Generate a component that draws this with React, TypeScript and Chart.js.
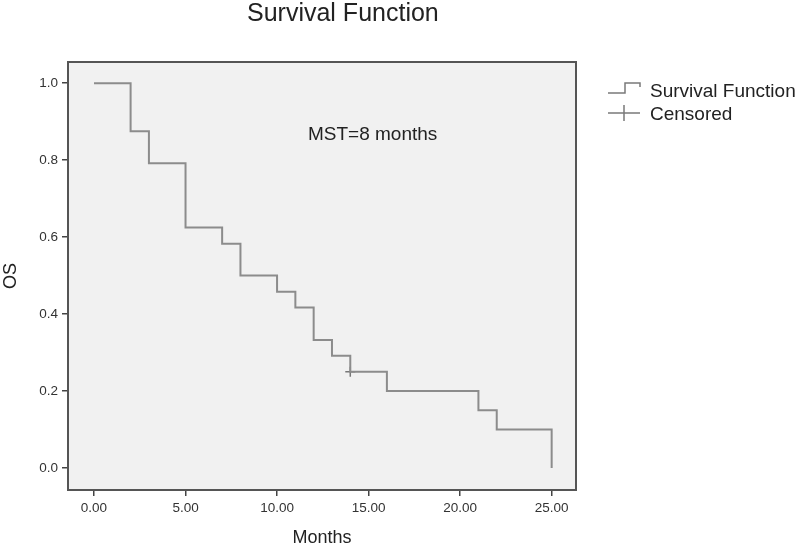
import React, { useEffect, useRef } from "react";
import { Chart, registerables } from "chart.js";

Chart.register(...registerables);

// ---- Data (Kaplan-Meier estimate) ----
const MONTHS: number[] = [0, 2, 3, 5, 7, 8, 10, 11, 12, 13, 14, 16, 21, 22, 25];
const SURVIVAL: number[] = [1.0, 0.875, 0.792, 0.625, 0.583, 0.5, 0.458, 0.417, 0.333, 0.292, 0.25, 0.2, 0.15, 0.1, 0.0];
const CENSORED_MONTHS: number[] = [14];
const CENSORED_SURVIVAL: number[] = [0.25];

const X_TICKS: number[] = [0, 5, 10, 15, 20, 25];
const Y_TICKS: number[] = [0, 0.2, 0.4, 0.6, 0.8, 1.0];

const TITLE = "Survival Function";
const ANNOTATION = "MST=8 months";
const LEGEND_LABELS: string[] = ["Survival Function", "Censored"];
const X_TITLE = "Months";
const Y_TITLE = "OS";

const FONT = '"Liberation Sans", Arial, Helvetica, sans-serif';
const LINE_COLOR = "#8c8c8c";
const TEXT_COLOR = "#222222";

const decorPlugin = {
  id: "decor",
  beforeDatasetsDraw(chart: any) {
    const { ctx, chartArea } = chart;
    ctx.save();
    ctx.fillStyle = "#f1f1f1";
    ctx.fillRect(chartArea.left, chartArea.top, chartArea.right - chartArea.left, chartArea.bottom - chartArea.top);
    ctx.restore();
  },
  afterDraw(chart: any) {
    const { ctx, chartArea } = chart;
    ctx.save();
    // frame
    ctx.strokeStyle = "#555555";
    ctx.lineWidth = 2;
    ctx.strokeRect(chartArea.left, chartArea.top, chartArea.right - chartArea.left, chartArea.bottom - chartArea.top);

    // title
    ctx.fillStyle = TEXT_COLOR;
    ctx.textBaseline = "alphabetic";
    ctx.textAlign = "left";
    ctx.font = `25px ${FONT}`;
    ctx.fillText(TITLE, 247, 21);

    // annotation
    ctx.font = `19px ${FONT}`;
    ctx.fillText(ANNOTATION, 308, 140);

    // legend
    ctx.strokeStyle = "#7a7a7a";
    ctx.lineWidth = 1.5;
    ctx.beginPath();
    ctx.moveTo(608, 93);
    ctx.lineTo(625, 93);
    ctx.lineTo(625, 83);
    ctx.lineTo(640, 83);
    ctx.lineTo(640, 87);
    ctx.stroke();
    ctx.beginPath();
    ctx.moveTo(608, 113);
    ctx.lineTo(640, 113);
    ctx.moveTo(624, 105);
    ctx.lineTo(624, 121);
    ctx.stroke();
    ctx.fillStyle = TEXT_COLOR;
    ctx.font = `19px ${FONT}`;
    ctx.fillText(LEGEND_LABELS[0], 650, 97);
    ctx.fillText(LEGEND_LABELS[1], 650, 120);
    ctx.restore();
  },
};

export default function App() {
  const canvasRef = useRef<HTMLCanvasElement | null>(null);

  useEffect(() => {
    document.body.style.margin = "0";
    const canvas = canvasRef.current;
    if (!canvas) return;

    const chart = new Chart(canvas, {
      type: "line",
      data: {
        datasets: [
          {
            label: LEGEND_LABELS[0],
            data: MONTHS.map((m, i) => ({ x: m, y: SURVIVAL[i] })),
            stepped: "before",
            borderColor: LINE_COLOR,
            borderWidth: 2,
            pointRadius: 0,
            fill: false,
          },
          {
            label: LEGEND_LABELS[1],
            data: CENSORED_MONTHS.map((m, i) => ({ x: m, y: CENSORED_SURVIVAL[i] })),
            showLine: false,
            pointStyle: "cross",
            pointRadius: 5,
            borderColor: "#777777",
            borderWidth: 1.5,
          },
        ],
      },
      options: {
        responsive: false,
        animation: false,
        layout: { padding: { top: 62, left: 0, right: 224, bottom: 0 } },
        plugins: {
          legend: { display: false },
          title: { display: false },
          tooltip: { enabled: false },
        },
        scales: {
          x: {
            type: "linear",
            min: -1.42,
            max: 26.33,
            afterFit: (scale: any) => {
              scale.height = 59;
            },
            afterBuildTicks: (scale: any) => {
              scale.ticks = X_TICKS.map((v) => ({ value: v }));
            },
            ticks: {
              autoSkip: false,
              maxRotation: 0,
              padding: 4,
              color: "#333333",
              font: { family: FONT, size: 13.5 },
              callback: (v: any) => Number(v).toFixed(2),
            },
            grid: {
              drawOnChartArea: false,
              drawTicks: true,
              tickLength: 6,
              color: "#444444",
              lineWidth: 1.5,
            },
            border: { display: false },
            title: {
              display: true,
              text: X_TITLE,
              color: TEXT_COLOR,
              font: { family: FONT, size: 18 },
              padding: { top: 0, bottom: 0 },
            },
          },
          y: {
            type: "linear",
            min: -0.057,
            max: 1.055,
            afterFit: (scale: any) => {
              scale.width = 68;
            },
            afterBuildTicks: (scale: any) => {
              scale.ticks = Y_TICKS.map((v) => ({ value: v }));
            },
            ticks: {
              autoSkip: false,
              padding: 4,
              color: "#333333",
              font: { family: FONT, size: 13.5 },
              callback: (v: any) => Number(v).toFixed(1),
            },
            grid: {
              drawOnChartArea: false,
              drawTicks: true,
              tickLength: 6,
              color: "#444444",
              lineWidth: 1.5,
            },
            border: { display: false },
            title: {
              display: true,
              text: Y_TITLE,
              color: TEXT_COLOR,
              font: { family: FONT, size: 18 },
              padding: { top: 0, bottom: 0 },
            },
          },
        },
      },
      plugins: [decorPlugin],
    });

    return () => chart.destroy();
  }, []);

  return (
    <div style={{ width: 800, height: 549, background: "#ffffff" }}>
      <canvas ref={canvasRef} width={800} height={549} style={{ display: "block" }} />
    </div>
  );
}
